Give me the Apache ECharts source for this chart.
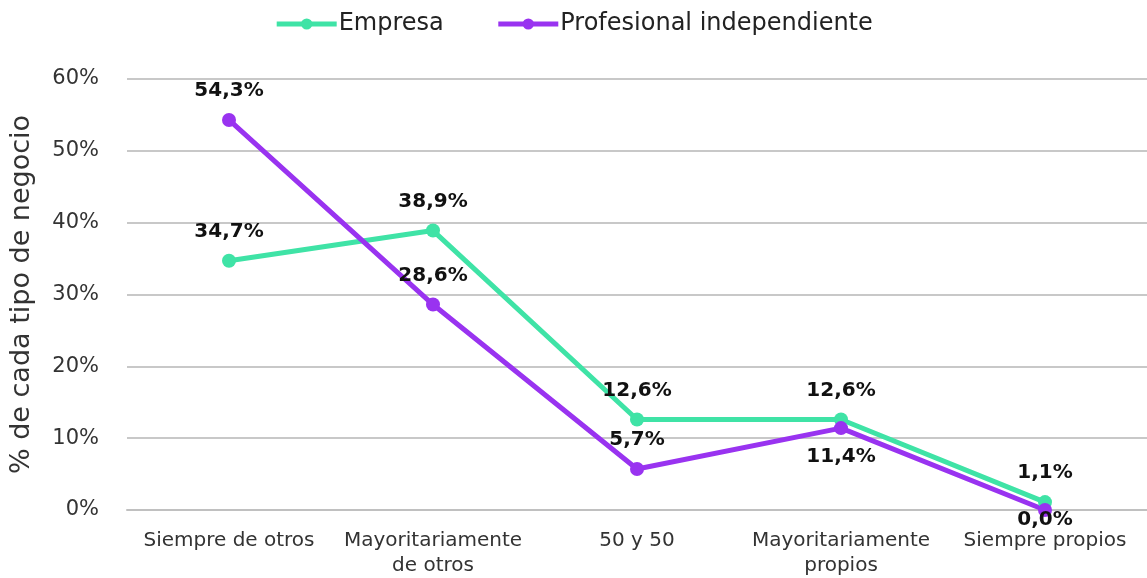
<!DOCTYPE html>
<html>
<head>
<meta charset="utf-8">
<script src="https://cdn.jsdelivr.net/npm/echarts@6/dist/echarts.min.js"></script>
<style>
html, body { margin: 0; padding: 0; background: #fff; }
#chart { width: 1147px; height: 578px; }
</style>
</head>
<body>
<div id="chart"></div>
<script>
var categories = ['Siempre de otros', 'Mayoritariamente\nde otros', '50 y 50', 'Mayoritariamente\npropios', 'Siempre propios'];
var empresa = [34.7, 38.9, 12.6, 12.6, 1.1];
var profesional = [54.3, 28.6, 5.7, 11.4, 0.0];
// posición de etiqueta por punto (profesional)
var profesionalPos = ['top', 'top', 'top', 'bottom', 'bottom'];
var profesionalDist = [12, 12, 12, 12, -7];

var myChart = echarts.init(document.getElementById('chart'));
var font = '"DejaVu Sans", sans-serif';

function fmt(p) {
	return p.value.toFixed(1).replace('.', ',') + '%';
}

var option = {
	textStyle: { fontFamily: font },
	color: ['#3fe3a6', '#9933f0'],
	legend: {
		top: 7,
		left: 'center',
		itemWidth: 60,
		itemHeight: 14,
		itemGap: 52,
		lineStyle: { width: 5 },
		textStyle: { fontSize: 24, color: '#222', fontFamily: font, padding: [0, 0, 0, -3] },
		data: ['Empresa', 'Profesional independiente']
	},
	grid: { left: 124, right: 0, top: 79, bottom: 68 },
	xAxis: {
		type: 'category',
		data: categories,
		axisLine: { lineStyle: { color: '#c0c0c0', width: 2 } },
		axisTick: { show: false },
		axisLabel: { fontSize: 20, color: '#333', lineHeight: 25, margin: 18, interval: 0 }
	},
	yAxis: {
		type: 'value',
		min: 0,
		max: 60,
		interval: 10,
		name: '% de cada tipo de negocio',
		nameLocation: 'middle',
		nameGap: 92,
		nameTextStyle: { fontSize: 27, color: '#333' },
		axisLabel: { fontSize: 21, color: '#333', margin: 28, formatter: '{value}%' },
		splitLine: { lineStyle: { color: '#c8c8c8', width: 2 } }
	},
	series: [{
		name: 'Empresa',
		type: 'line',
		data: empresa,
		symbol: 'circle',
		symbolSize: 14,
		lineStyle: { width: 5 },
		label: {
			show: true,
			position: 'top',
			distance: 12,
			formatter: fmt,
			fontSize: 20,
			fontWeight: 'bold',
			color: '#111'
		}
	}, {
		name: 'Profesional independiente',
		type: 'line',
		data: profesional.map(function (v, i) {
			return { value: v, label: { position: profesionalPos[i], distance: profesionalDist[i] } };
		}),
		symbol: 'circle',
		symbolSize: 14,
		lineStyle: { width: 5 },
		label: {
			show: true,
			formatter: fmt,
			fontSize: 20,
			fontWeight: 'bold',
			color: '#111'
		}
	}]
};

myChart.setOption(option);
</script>
</body>
</html>
